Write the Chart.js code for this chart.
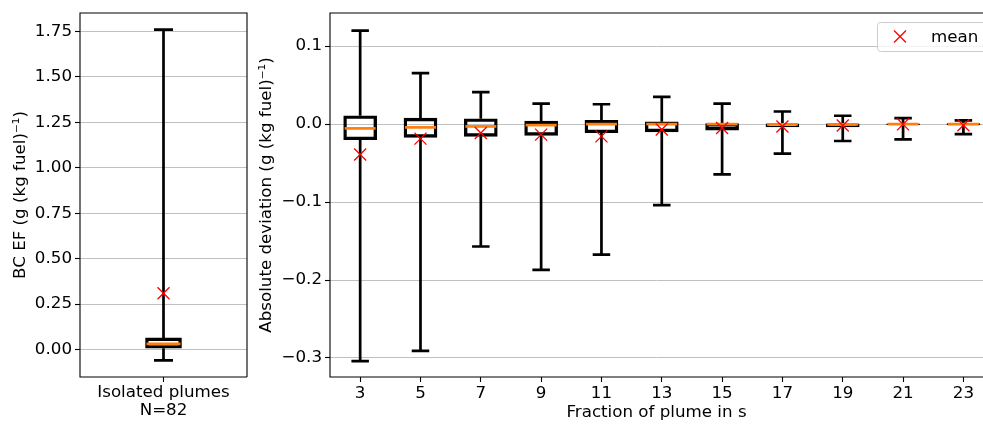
<!DOCTYPE html>
<html>
<head>
<meta charset="utf-8">
<script src="https://cdn.jsdelivr.net/npm/chart.js@4.4.0/dist/chart.umd.min.js"></script>
<style>
  html, body { margin: 0; padding: 0; background: #fff; }
  #wrap { position: relative; width: 983px; height: 426px; overflow: hidden; }
  canvas { position: absolute; top: 0; }
</style>
</head>
<body>
<div id="wrap">
  <canvas id="left" width="255" height="426" style="left:0"></canvas>
  <canvas id="right" width="733" height="426" style="left:250px"></canvas>
</div>
<script>
// ===== data: isolated plumes (left panel) =====
const plumeLabel = ["Isolated plumes", "N=82"];
const plumeMin = [-0.06];
const plumeQ1 = [0.007];
const plumeMed = [0.031];
const plumeQ3 = [0.064];
const plumeMax = [1.76];
const plumeMean = [0.31];
const plumeTicks = [0, 0.25, 0.5, 0.75, 1.0, 1.25, 1.5, 1.75];

// ===== data: absolute deviation by fraction (right panel) =====
const fractions = [3, 5, 7, 9, 11, 13, 15, 17, 19, 21, 23];
const devMin  = [-0.304, -0.291, -0.157, -0.187, -0.1675, -0.104, -0.0646, -0.0378, -0.0217, -0.0195, -0.0128];
const devQ1   = [-0.020, -0.017, -0.0157, -0.0144, -0.011, -0.010, -0.0077, -0.0037, -0.0035, -0.0008, -0.001];
const devMed  = [-0.0055, -0.0042, -0.003, -0.0013, 0.0, 0.0, 0.0, -0.0003, -0.0003, 0.0, 0.0];
const devQ3   = [0.0107, 0.0077, 0.0069, 0.0038, 0.0047, 0.003, 0.0008, 0.0005, 0.0005, 0.0005, 0.0008];
const devMax  = [0.120, 0.0655, 0.041, 0.0264, 0.0255, 0.035, 0.0264, 0.0162, 0.0107, 0.0077, 0.0047];
const devMean = [-0.039, -0.0186, -0.0115, -0.0135, -0.0157, -0.007, -0.005, -0.003, -0.0017, -0.0003, -0.0015];
const devTicks = [-0.3, -0.2, -0.1, 0.0, 0.1];

Chart.defaults.font.family = "'DejaVu Sans', sans-serif";
Chart.defaults.font.size = 16.7;
Chart.defaults.color = "#000";

const ORANGE = "#ff7f0e";
const GRID = "#c0c0c0";
const LW = 2.7;

// whiskers, caps and medians drawn through the chart's scales
function boxPlugin(pos, lo, q1, med, q3, hi, boxW, frameRight) {
  return {
    id: "boxWhiskers",
    beforeDatasetsDraw(chart) {
      const { ctx, scales: { x, y } } = chart;
      ctx.save();
      ctx.strokeStyle = "#000";
      ctx.lineWidth = LW;
      pos.forEach((p, i) => {
        const cx = x.getPixelForValue(p);
        const cap = boxW / 4;
        ctx.beginPath();
        ctx.moveTo(cx, y.getPixelForValue(q3[i]));
        ctx.lineTo(cx, y.getPixelForValue(hi[i]));
        ctx.moveTo(cx, y.getPixelForValue(q1[i]));
        ctx.lineTo(cx, y.getPixelForValue(lo[i]));
        [lo[i], hi[i]].forEach(v => {
          const py = y.getPixelForValue(v);
          ctx.moveTo(cx - cap - 1, py);
          ctx.lineTo(cx + cap + 1, py);
        });
        ctx.stroke();
      });
      ctx.restore();
    },
    afterDatasetDraw(chart, args) {
      if (args.index !== 0) return;
      const { ctx, scales: { x, y } } = chart;
      ctx.save();
      ctx.strokeStyle = ORANGE;
      ctx.lineWidth = LW;
      pos.forEach((p, i) => {
        const cx = x.getPixelForValue(p);
        const py = y.getPixelForValue(med[i]);
        ctx.beginPath();
        ctx.moveTo(cx - boxW / 2, py);
        ctx.lineTo(cx + boxW / 2, py);
        ctx.stroke();
      });
      ctx.restore();
    },
    afterDraw(chart) {
      const { ctx, chartArea: a } = chart;
      ctx.save();
      ctx.strokeStyle = "#000";
      ctx.lineWidth = 1.1;
      ctx.beginPath();
      if (frameRight) {
        ctx.moveTo(a.right, a.bottom);
        ctx.lineTo(a.right, a.top);
      } else {
        ctx.moveTo(a.right + 5, a.top);
      }
      ctx.lineTo(a.left, a.top);
      ctx.lineTo(a.left, a.bottom);
      ctx.lineTo(frameRight ? a.right : a.right + 5, a.bottom);
      ctx.stroke();
      ctx.restore();
    }
  };
}

// legend box for the mean marker (upper right, partly cut off like the original)
const meanLegend = {
  id: "meanLegend",
  afterDraw(chart) {
    const ctx = chart.ctx;
    const a = chart.chartArea;
    const x0 = a.right - 106, y0 = a.top + 9, w = 113, h = 29;
    ctx.save();
    ctx.fillStyle = "rgba(255,255,255,0.8)";
    ctx.strokeStyle = "#cccccc";
    ctx.lineWidth = 1;
    ctx.beginPath();
    ctx.roundRect(x0 + 0.5, y0 + 0.5, w, h, 3);
    ctx.fill();
    ctx.stroke();
    const mx = x0 + 23, my = y0 + h / 2;
    ctx.strokeStyle = "red";
    ctx.lineWidth = 1.3;
    ctx.beginPath();
    ctx.moveTo(mx - 6, my - 6); ctx.lineTo(mx + 6, my + 6);
    ctx.moveTo(mx - 6, my + 6); ctx.lineTo(mx + 6, my - 6);
    ctx.stroke();
    ctx.fillStyle = "#000";
    ctx.font = "16.7px 'DejaVu Sans'";
    ctx.textBaseline = "middle";
    ctx.fillText("mean", x0 + 54, my + 1);
    ctx.restore();
  }
};

// ===== left panel =====
new Chart(document.getElementById("left"), {
  type: "bar",
  data: {
    labels: [plumeLabel],
    datasets: [
      {
        data: plumeQ1.map((q, i) => [q, plumeQ3[i]]),
        backgroundColor: "rgba(0,0,0,0)",
        borderColor: "#000",
        borderWidth: LW,
        borderSkipped: false,
        barThickness: 36,
        order: 2
      },
      {
        type: "line",
        label: "mean",
        data: plumeMean,
        showLine: false,
        pointStyle: "crossRot",
        pointRadius: 8.5,
        borderColor: "red",
        borderWidth: 1.3,
        order: 1
      }
    ]
  },
  options: {
    responsive: false,
    animation: false,
    layout: { padding: { top: 11, right: 8, left: 0, bottom: 0 }, autoPadding: false },
    plugins: { legend: { display: false }, tooltip: { enabled: false } },
    scales: {
      x: {
        offset: true,
        grid: { drawOnChartArea: false, offset: false, tickLength: 5, tickColor: "#000", tickWidth: 1.1 },
        border: { display: false },
        ticks: { padding: 2, font: { lineHeight: 1.05 } },
        afterFit: s => { s.height = 49; }
      },
      y: {
        min: -0.151,
        max: 1.851,
        afterBuildTicks: s => { s.ticks = plumeTicks.map(v => ({ value: v })); },
        ticks: { padding: 3, callback: v => v.toFixed(2) },
        grid: { color: GRID, lineWidth: 1, tickColor: "#000", tickLength: 5, tickWidth: 1.1 },
        border: { display: false },
        title: { display: true, text: "BC EF (g (kg fuel)⁻¹)", padding: { top: 11, bottom: 0 } },
        afterFit: s => { s.width = 80; }
      }
    }
  },
  plugins: [boxPlugin([0], plumeMin, plumeQ1, plumeMed, plumeQ3, plumeMax, 34, true)]
});

// ===== right panel =====
new Chart(document.getElementById("right"), {
  type: "bar",
  data: {
    datasets: [
      {
        data: fractions.map((f, i) => ({ x: f, y: [devQ1[i], devQ3[i]] })),
        backgroundColor: "rgba(0,0,0,0)",
        borderColor: "#000",
        borderWidth: LW,
        borderSkipped: false,
        barThickness: 33,
        order: 2
      },
      {
        type: "line",
        label: "mean",
        data: fractions.map((f, i) => ({ x: f, y: devMean[i] })),
        showLine: false,
        pointStyle: "crossRot",
        pointRadius: 8.5,
        borderColor: "red",
        borderWidth: 1.3,
        order: 1
      }
    ]
  },
  options: {
    responsive: false,
    animation: false,
    layout: { padding: { top: 11, right: 0, left: 0, bottom: 0 }, autoPadding: false },
    plugins: { legend: { display: false }, tooltip: { enabled: false } },
    scales: {
      x: {
        type: "linear",
        min: 2,
        max: 23.65,
        offset: false,
        afterBuildTicks: s => { s.ticks = fractions.map(v => ({ value: v })); },
        ticks: { padding: 2, callback: v => String(v) },
        grid: { drawOnChartArea: false, offset: false, tickLength: 5, tickColor: "#000", tickWidth: 1.1 },
        border: { display: false },
        title: { display: true, text: "Fraction of plume in s", padding: { top: 0, bottom: 3 } },
        afterFit: s => { s.height = 49; }
      },
      y: {
        min: -0.3244,
        max: 0.1425,
        afterBuildTicks: s => { s.ticks = devTicks.map(v => ({ value: v })); },
        ticks: {
          padding: 3,
          callback: v => Math.abs(v) < 1e-9 ? "0.0" : v.toFixed(1).replace("-", "\u2212")
        },
        grid: { color: GRID, lineWidth: 1, tickColor: "#000", tickLength: 5, tickWidth: 1.1 },
        border: { display: false },
        title: { display: true, text: "Absolute deviation (g (kg fuel)⁻¹)", padding: { top: 7, bottom: 0 } },
        afterFit: s => { s.width = 80; }
      }
    }
  },
  plugins: [boxPlugin(fractions, devMin, devQ1, devMed, devQ3, devMax, 31, false), meanLegend]
});
</script>
</body>
</html>
